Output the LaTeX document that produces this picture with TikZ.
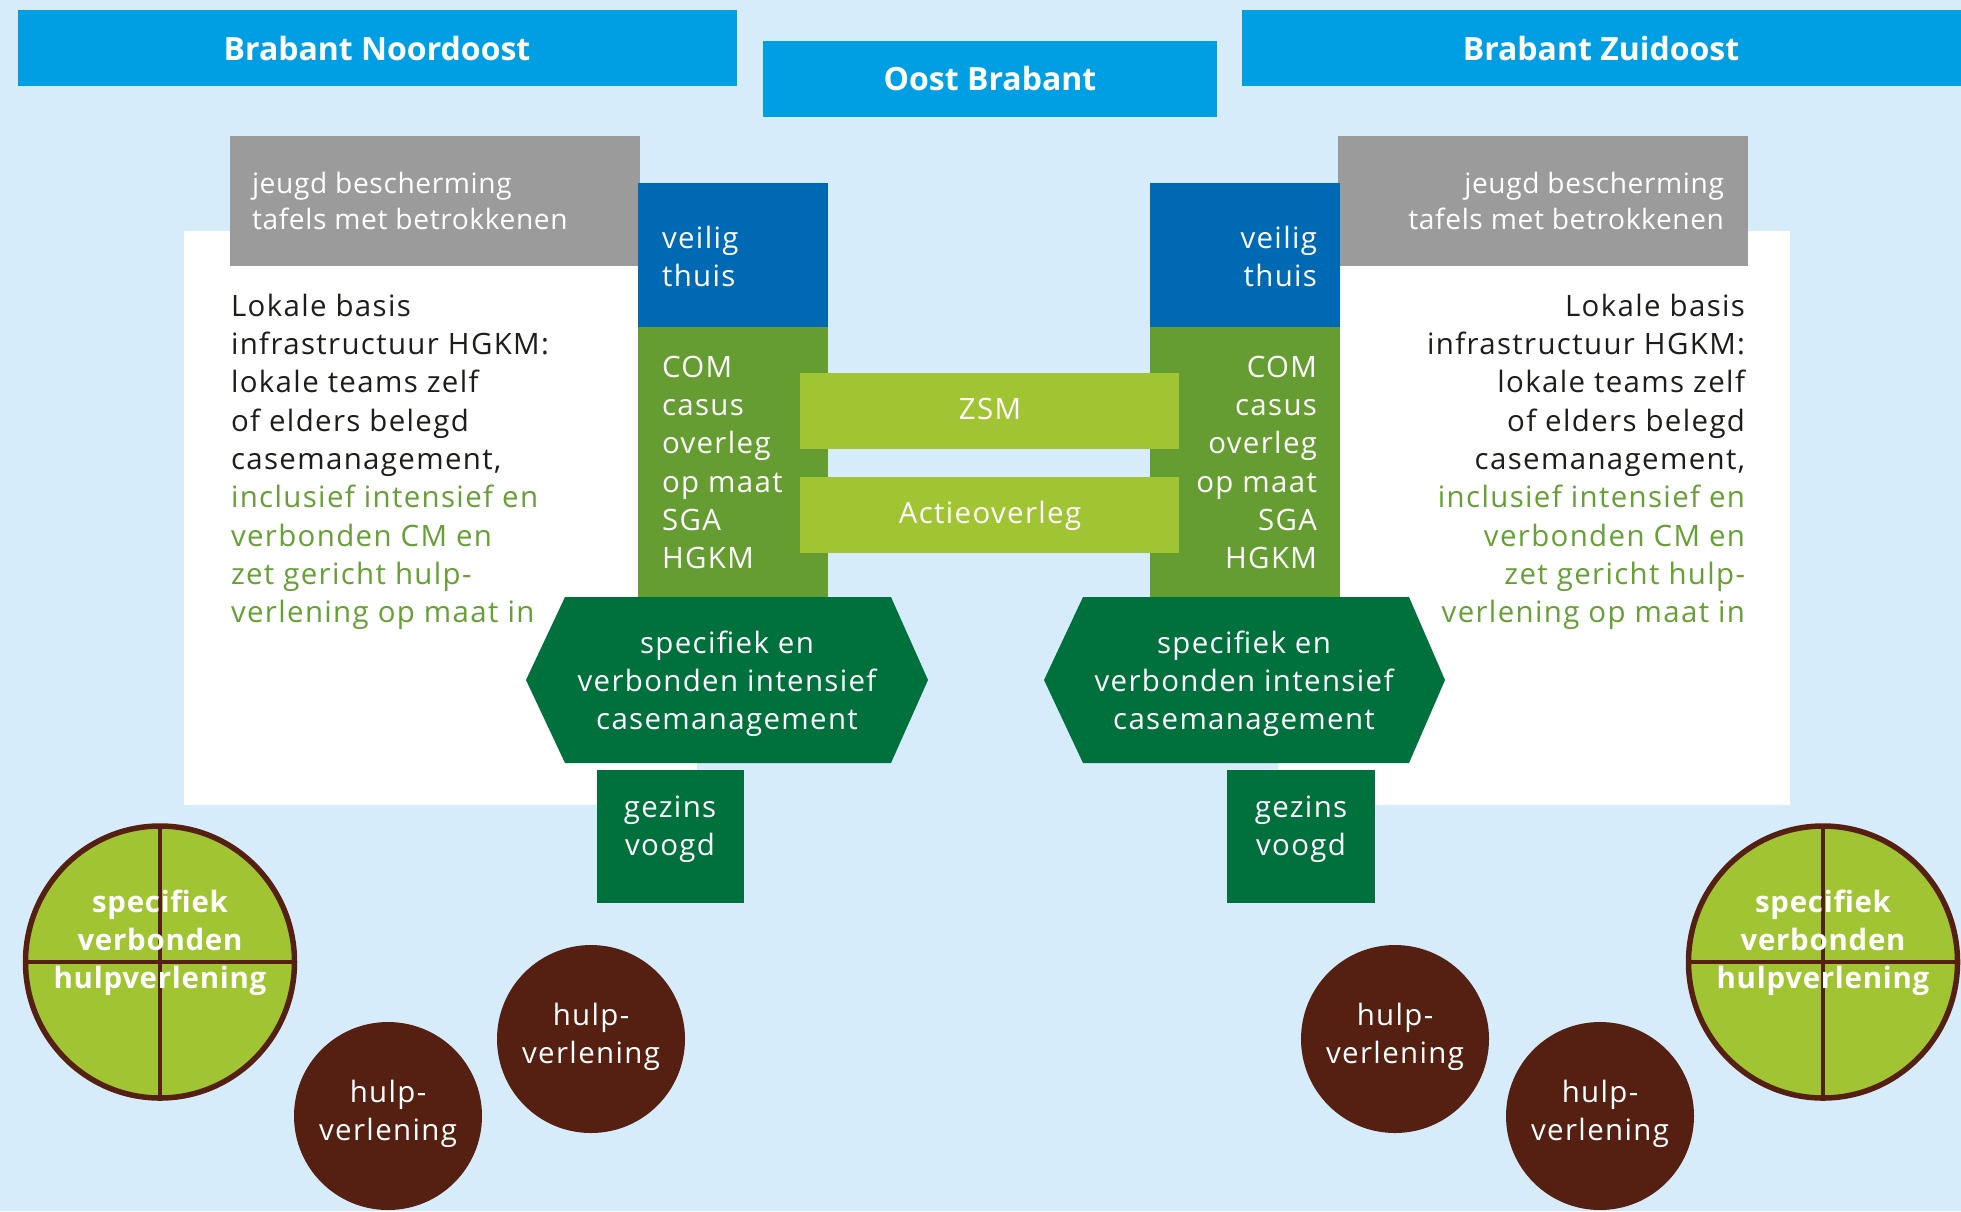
\documentclass[tikz,border=0pt]{standalone}
\usepackage{fontspec}
\setmainfont{Open Sans}
\newfontfamily\osbody[LetterSpace=4.6]{Open Sans}
\newfontfamily\osgray[LetterSpace=2.2]{Open Sans}
\newfontfamily\osround[LetterSpace=2.5]{Open Sans}
\definecolor{bg}{HTML}{D7ECFA}
\definecolor{titleblue}{HTML}{009FE3}
\definecolor{vtblue}{HTML}{0069B4}
\definecolor{colgreen}{HTML}{659D32}
\definecolor{lightgreen}{HTML}{A0C432}
\definecolor{darkgreen}{HTML}{00713D}
\definecolor{grayb}{HTML}{9B9B9B}
\definecolor{hbrown}{HTML}{552012}
\definecolor{txtdark}{HTML}{1D1D1B}
\definecolor{txtgreen}{HTML}{66A035}
\newcommand{\fbody}{\osbody\fontsize{8.37}{10.9}\selectfont}
\newcommand{\ftitle}{\fontsize{9.1}{11}\selectfont\bfseries}
\newcommand{\fgray}{\osgray\fontsize{8.0}{10.5}\selectfont}
\newcommand{\fround}{\osround\fontsize{8.37}{10.9}\selectfont\bfseries}
\newcommand{\gr}{\color{txtgreen}}
\newcommand{\TL}[1]{\begin{tabular}[t]{@{}l@{}}#1\end{tabular}}
\newcommand{\TR}[1]{\begin{tabular}[t]{@{}r@{}}#1\end{tabular}}
\newcommand{\TC}[1]{\begin{tabular}[t]{@{}c@{}}#1\end{tabular}}
\renewcommand{\arraystretch}{1}
\tikzset{
  txt/.style={inner sep=0pt, outer sep=0pt},
  wtxt/.style={txt, text=white, font=\fbody},
  ttl/.style={txt, text=white, font=\ftitle, anchor=base},
  roundline/.style={draw=hbrown, line width=4pt*0.2845},
}
\begin{document}
\begin{tikzpicture}[x=0.01cm,y=-0.01cm]
\useasboundingbox (0,0) rectangle (1961,1211);
\fill[bg] (0,0) rectangle (1961,1211);
% title bars
\fill[titleblue] (18,10) rectangle (737,86);
\fill[titleblue] (763,41) rectangle (1217,117);
\fill[titleblue] (1242,10) rectangle (1961,86);
\node[ttl] (tnw) at (377,60) {Brabant Noordoost};
\node[ttl] (tob) at (990,90) {Oost Brabant};
\node[ttl] (tzo) at (1601,60) {Brabant Zuidoost};
% white panels
\fill[white] (184,231) rectangle (697,805);
\fill[white] (1278,231) rectangle (1790,805);
% grey boxes
\fill[grayb] (230,136) rectangle (640,266);
\fill[grayb] (1338,136) rectangle (1748,266);
\node[txt, text=white, font=\fgray, anchor=base west] (gl) at (252,193)
  {\TL{jeugd bescherming\\tafels met betrokkenen}};
\node[txt, text=white, font=\fgray, anchor=base east] (gr) at (1724,193)
  {\TR{jeugd bescherming\\tafels met betrokkenen}};
% body texts
\node[txt, text=txtdark, font=\fbody, anchor=base west] (bl) at (231,316)
  {\TL{Lokale basis\\infrastructuur HGKM:\\lokale teams zelf\\of elders belegd\\casemanagement,\\
  \gr inclusief intensief en\\\gr verbonden CM en\\\gr zet gericht hulp-\\\gr verlening op maat in}};
\node[txt, text=txtdark, font=\fbody, anchor=base east] (br) at (1745,316)
  {\TR{Lokale basis\\infrastructuur HGKM:\\lokale teams zelf\\of elders belegd\\casemanagement,\\
  \gr inclusief intensief en\\\gr verbonden CM en\\\gr zet gericht hulp-\\\gr verlening op maat in}};
% columns
\fill[vtblue] (638,183) rectangle (828,327);
\fill[vtblue] (1150,183) rectangle (1340,327);
\fill[colgreen] (638,327) rectangle (828,597);
\fill[colgreen] (1150,327) rectangle (1340,597);
\node[wtxt, anchor=base west] (vtl) at (662,248) {\TL{veilig\\thuis}};
\node[wtxt, anchor=base east] (vtr) at (1317,248) {\TR{veilig\\thuis}};
\node[wtxt, anchor=base west] (coml) at (662,377) {\TL{COM\\casus\\overleg\\op maat\\SGA\\HGKM}};
\node[wtxt, anchor=base east] (comr) at (1317,377) {\TR{COM\\casus\\overleg\\op maat\\SGA\\HGKM}};
% bars
\fill[lightgreen] (800,373) rectangle (1179,449);
\fill[lightgreen] (800,477) rectangle (1179,553);
\node[wtxt, anchor=base] (zsm) at (990,419) {ZSM};
\node[wtxt, anchor=base] (act) at (990,523) {Actieoverleg};
% hexagons
\fill[darkgreen] (565,597) -- (891,597) -- (928,680) -- (891,763) -- (565,763) -- (526,680) -- cycle;
\fill[darkgreen] (1083,597) -- (1409,597) -- (1445,680) -- (1409,763) -- (1083,763) -- (1044,680) -- cycle;
\node[wtxt, anchor=base] (hxl) at (727,653) {\TC{specifiek en\\verbonden intensief\\casemanagement}};
\node[wtxt, anchor=base] (hxr) at (1244,653) {\TC{specifiek en\\verbonden intensief\\casemanagement}};
% gezinsvoogd
\fill[darkgreen] (597,770) rectangle (744,903);
\fill[darkgreen] (1227,770) rectangle (1375,903);
\node[wtxt, anchor=base] (gvl) at (670,817) {\TC{gezins\\voogd}};
\node[wtxt, anchor=base] (gvr) at (1301,817) {\TC{gezins\\voogd}};
% green round shapes
\foreach \cx/\nm in {160/sl, 1823/sr}{
  \fill[lightgreen] (\cx,962) ellipse [x radius=134.5, y radius=136];
  \draw[roundline] (\cx,826) -- (\cx,1098);
  \draw[roundline] (\cx-134.5,962) -- (\cx+134.5,962);
  \draw[draw=hbrown, line width=5.5pt*0.2845] (\cx,962) ellipse [x radius=134.5, y radius=136];
  \node[txt, text=white, font=\fround, anchor=base] (\nm) at (\cx,912) {\TC{specifiek\\verbonden\\hulpverlening}};
}
% brown circles
\foreach \cx/\cy/\nm in {388/1116/h1, 591/1039/h2, 1395/1039/h3, 1600/1116/h4}{
  \fill[hbrown] (\cx,\cy) circle [radius=94];
  \node[wtxt, anchor=base] (\nm) at (\cx,\cy-14) {\TC{hulp-\\verlening}};
}
\end{tikzpicture}
\end{document}
